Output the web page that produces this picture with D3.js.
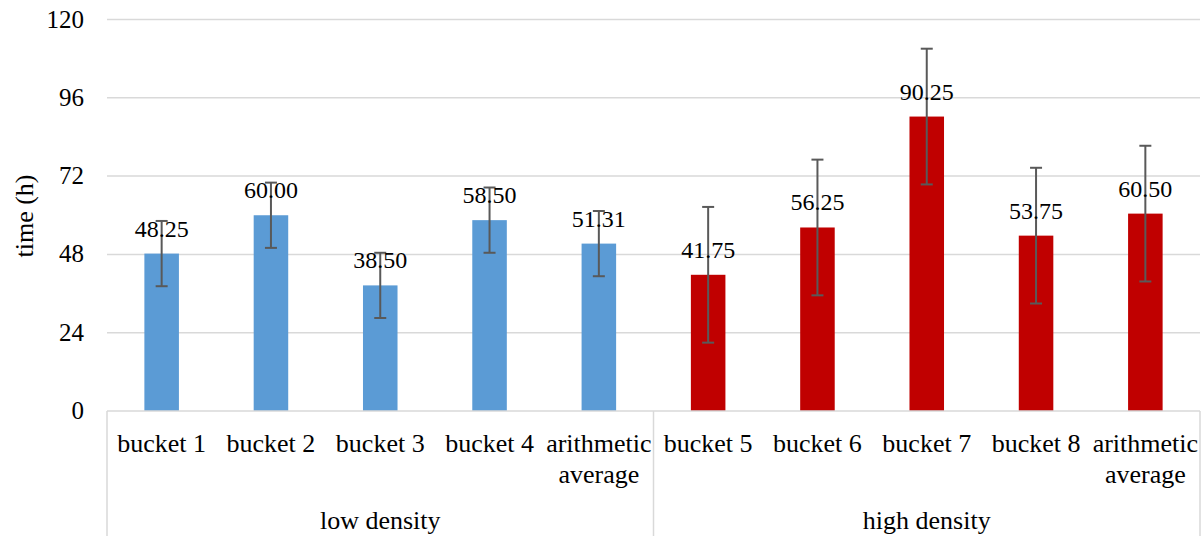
<!DOCTYPE html>
<html>
<head>
<meta charset="utf-8">
<script src="https://cdn.jsdelivr.net/npm/d3@7/dist/d3.min.js"></script>
</head>
<body style="margin:0">
<svg id="chart" width="1203" height="536"></svg>
<script>
// ---- data ----
const categories = ["bucket 1", "bucket 2", "bucket 3", "bucket 4", "arithmetic|average",
                    "bucket 5", "bucket 6", "bucket 7", "bucket 8", "arithmetic|average"];
const groups = ["low density", "high density"];
const lowValues = [48.25, 60.00, 38.50, 58.50, 51.31];
const highValues = [41.75, 56.25, 90.25, 53.75, 60.50];
const lowErrors = [10, 10, 10, 10, 10];
const highErrors = [20.8, 20.8, 20.8, 20.8, 20.8];
const yTicks = [0, 24, 48, 72, 96, 120];
const labelFormat = ["48.25", "60.00", "38.50", "58.50", "51.31", "41.75", "56.25", "90.25", "53.75", "60.50"];

(function () {
const values = lowValues.concat(highValues);
const errors = lowErrors.concat(highErrors);
const colors = ["#5B9BD5", "#C00000"];
const FONT = '"Liberation Serif"';

const svg = d3.select("#chart");
const pLeft = 107, pRight = 1200, pTop = 19.5, pBottom = 411;

const x = d3.scaleBand().domain(d3.range(categories.length)).range([pLeft, pRight]).padding(0);
const y = d3.scaleLinear().domain([0, 120]).range([pBottom, pTop]);
const gx = d3.scaleBand().domain(groups).range([pLeft, pRight]).padding(0);

// gridlines
svg.append("g").selectAll("line").data(yTicks.filter(t => t > 0)).join("line")
  .attr("x1", pLeft).attr("x2", pRight)
  .attr("y1", d => y(d)).attr("y2", d => y(d))
  .attr("stroke", "#d9d9d9").attr("stroke-width", 1.5);

// y tick labels
yTicks.forEach(t => {
  svg.append("text").attr("x", 84).attr("y", y(t) + 8)
    .attr("text-anchor", "end").attr("font-size", 25)
    .style("font-family", FONT).text(t);
});

// y axis title
svg.append("text")
  .attr("transform", "translate(33,216) rotate(-90)")
  .attr("text-anchor", "middle").attr("font-size", 26)
  .style("font-family", FONT).text("time (h)");

// bars
const bw = x.bandwidth() * 0.316;
svg.append("g").selectAll("rect").data(values).join("rect")
  .attr("x", (d, i) => x(i) + x.bandwidth() / 2 - bw / 2)
  .attr("width", bw)
  .attr("y", d => y(d))
  .attr("height", d => y(0) - y(d))
  .attr("fill", (d, i) => colors[i < 5 ? 0 : 1]);

// axis line and separators
svg.append("line").attr("x1", pLeft).attr("x2", pRight).attr("y1", pBottom).attr("y2", pBottom)
  .attr("stroke", "#d9d9d9").attr("stroke-width", 1.5);
const seps = [pLeft, gx("high density"), pRight];
svg.append("g").selectAll("line").data(seps).join("line")
  .attr("x1", d => d).attr("x2", d => d).attr("y1", pBottom).attr("y2", 536)
  .attr("stroke", "#d9d9d9").attr("stroke-width", 1.5);

// error bars
const eb = svg.append("g").attr("stroke", "#595959").attr("stroke-width", 2);
values.forEach((v, i) => {
  const cx = x(i) + x.bandwidth() / 2;
  const y1 = y(v + errors[i]), y2 = y(v - errors[i]);
  eb.append("line").attr("x1", cx).attr("x2", cx).attr("y1", y1).attr("y2", y2);
  eb.append("line").attr("x1", cx - 6).attr("x2", cx + 6).attr("y1", y1).attr("y2", y1);
  eb.append("line").attr("x1", cx - 6).attr("x2", cx + 6).attr("y1", y2).attr("y2", y2);
});

// data labels
values.forEach((v, i) => {
  svg.append("text").attr("x", x(i) + x.bandwidth() / 2).attr("y", y(v) - 17)
    .attr("text-anchor", "middle").attr("font-size", 24)
    .style("font-family", FONT).text(labelFormat[i]);
});

// category labels (each line its own text)
categories.forEach((c, i) => {
  const cx = x(i) + x.bandwidth() / 2;
  c.split("|").forEach((line, j) => {
    svg.append("text").attr("x", cx).attr("y", 452 + j * 31)
      .attr("text-anchor", "middle").attr("font-size", 26)
      .style("font-family", FONT).text(line);
  });
});

// group labels
groups.forEach(g => {
  svg.append("text").attr("x", gx(g) + gx.bandwidth() / 2).attr("y", 529)
    .attr("text-anchor", "middle").attr("font-size", 26)
    .style("font-family", FONT).text(g);
});
})();
</script>
</body>
</html>
